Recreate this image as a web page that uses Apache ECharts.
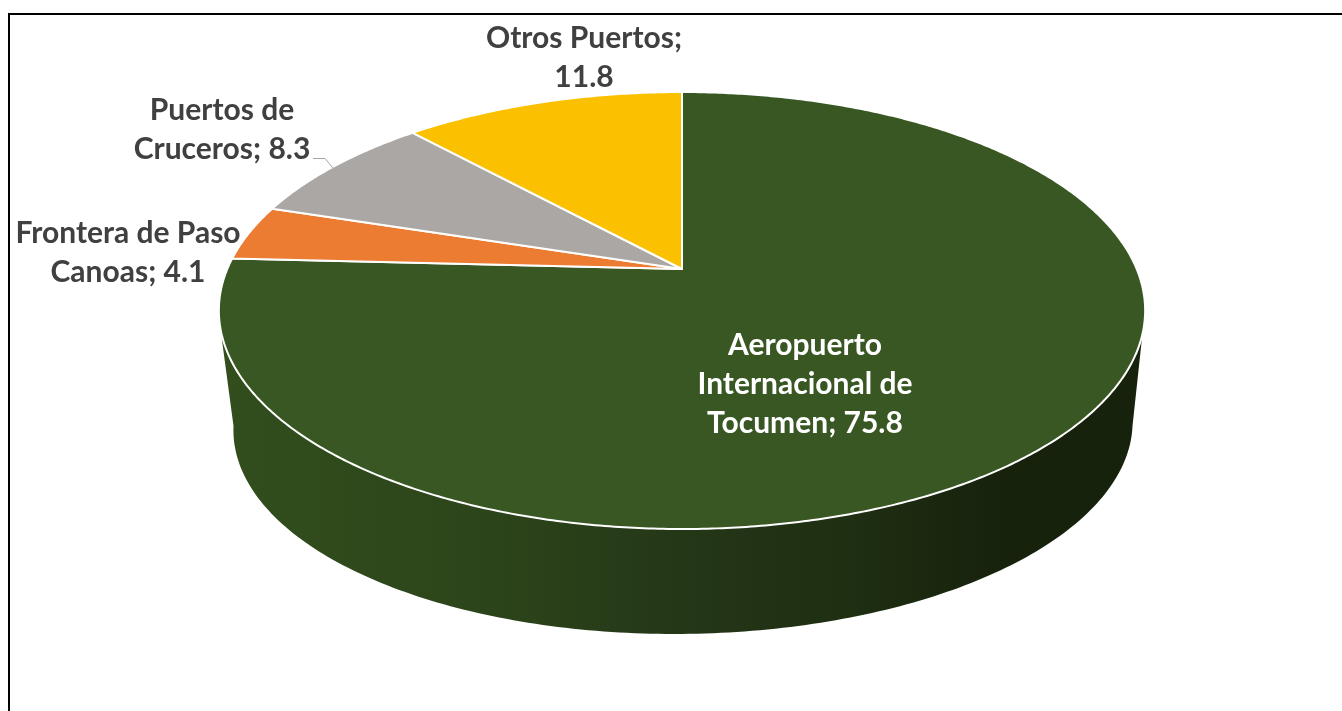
<!DOCTYPE html>
<html><head><meta charset="utf-8">
<style>html,body{margin:0;padding:0;background:#fff}#c{width:1342px;height:711px}</style>
<script src="https://cdn.jsdelivr.net/npm/echarts@6/dist/echarts.min.js"></script>
</head><body><div id="c"></div>
<script>
const categories = ['Aeropuerto\nInternacional de\nTocumen', 'Frontera de Paso\nCanoas', 'Puertos de\nCruceros', 'Otros Puertos'];
const values = [75.8, 4.1, 8.3, 11.8];
const separators = ['; ', '; ', '; ', ';\n'];
const colors = ['#385723', '#EB7C31', '#ABA7A5', '#FBC000'];
const labelColors = ['#ffffff', '#404040', '#404040', '#404040'];

// layout
const labelAnchors = [[805, 384], [128, 252.5], [222, 130], [584, 58]];
const PIE = { x: 682, y: 269, d: 454.7, a: 210.6, c: 0.19 };
const BASE = { x: 683, y: 426, rx: 449.5, ry: 208, skew: -9 };
const SIDE_L = [221.7, 338], SIDE_R = [1142, 338];
const FONT = 'Lato';

const total = values.reduce((s, v) => s + v, 0);
let acc = 0;
const seriesData = values.map((v, i) => { const r = [v, acc, i]; acc += v; return r; });

function rimPoint(theta) {
  const u = Math.sin(theta), v = Math.cos(theta), w = 1 + PIE.c * v;
  return [PIE.x + PIE.d * u / w, PIE.y - PIE.a * v / w];
}
function sidePoints() {
  const pts = [SIDE_R];
  for (let k = 0; k <= 180; k++) {
    const t = k * Math.PI / 180;
    pts.push([BASE.x + BASE.rx * Math.cos(t) + BASE.skew * Math.sin(t), BASE.y + BASE.ry * Math.sin(t)]);
  }
  pts.push(SIDE_L);
  return pts;
}
function renderSlice(params, api) {
  const val = api.value(0), start = api.value(1), idx = api.value(2);
  const t0 = start / total * 2 * Math.PI, t1 = (start + val) / total * 2 * Math.PI;
  const pts = [[PIE.x, PIE.y]];
  const n = Math.max(2, Math.ceil((t1 - t0) * 180 / Math.PI * 2));
  for (let k = 0; k <= n; k++) pts.push(rimPoint(t0 + (t1 - t0) * k / n));
  const children = [];
  if (t0 < Math.PI && t1 > Math.PI) {
    children.push({
      type: 'polygon', shape: { points: sidePoints() },
      style: { fill: new echarts.graphic.LinearGradient(0, 0, 1, 0, [
        { offset: 0, color: '#324e1d' },
        { offset: 0.3, color: '#2c441a' },
        { offset: 0.5, color: '#243717' },
        { offset: 0.68, color: '#1f2f12' },
        { offset: 0.85, color: '#17220d' },
        { offset: 1, color: '#17220d' }
      ]) }
    });
  }
  children.push({
    type: 'polygon', shape: { points: pts },
    style: { fill: colors[idx], stroke: '#ffffff', lineWidth: 2, lineJoin: 'round' }
  });
  return { type: 'group', children };
}
function renderLabel(params, api) {
  const idx = api.value(2);
  const a = labelAnchors[idx];
  return {
    type: 'text', z2: 10,
    style: {
      x: a[0], y: a[1],
      text: categories[idx] + separators[idx] + values[idx].toFixed(1),
      fill: labelColors[idx], font: '700 30px ' + FONT,
      align: 'center', verticalAlign: 'middle', lineHeight: 39
    }
  };
}
const chart = echarts.init(document.getElementById('c'), null, { renderer: 'canvas' });
chart.setOption({
  animation: false,
  backgroundColor: '#ffffff',
  graphic: [
    { type: 'polyline', z: 100, shape: { points: [[9, 711], [9, 14], [1342, 14]] },
      style: { stroke: '#000000', lineWidth: 2, fill: null } },
    { type: 'polyline', z: 100, shape: { points: [[313, 158.5], [325, 158.5], [333, 168]] },
      style: { stroke: '#a6a6a6', lineWidth: 1, fill: null } }
  ],
  series: [
    { type: 'custom', coordinateSystem: 'none', renderItem: renderSlice, data: seriesData, silent: true, z: 2 },
    { type: 'custom', coordinateSystem: 'none', renderItem: renderLabel, data: seriesData, silent: true, z: 3 }
  ]
});
</script></body></html>
